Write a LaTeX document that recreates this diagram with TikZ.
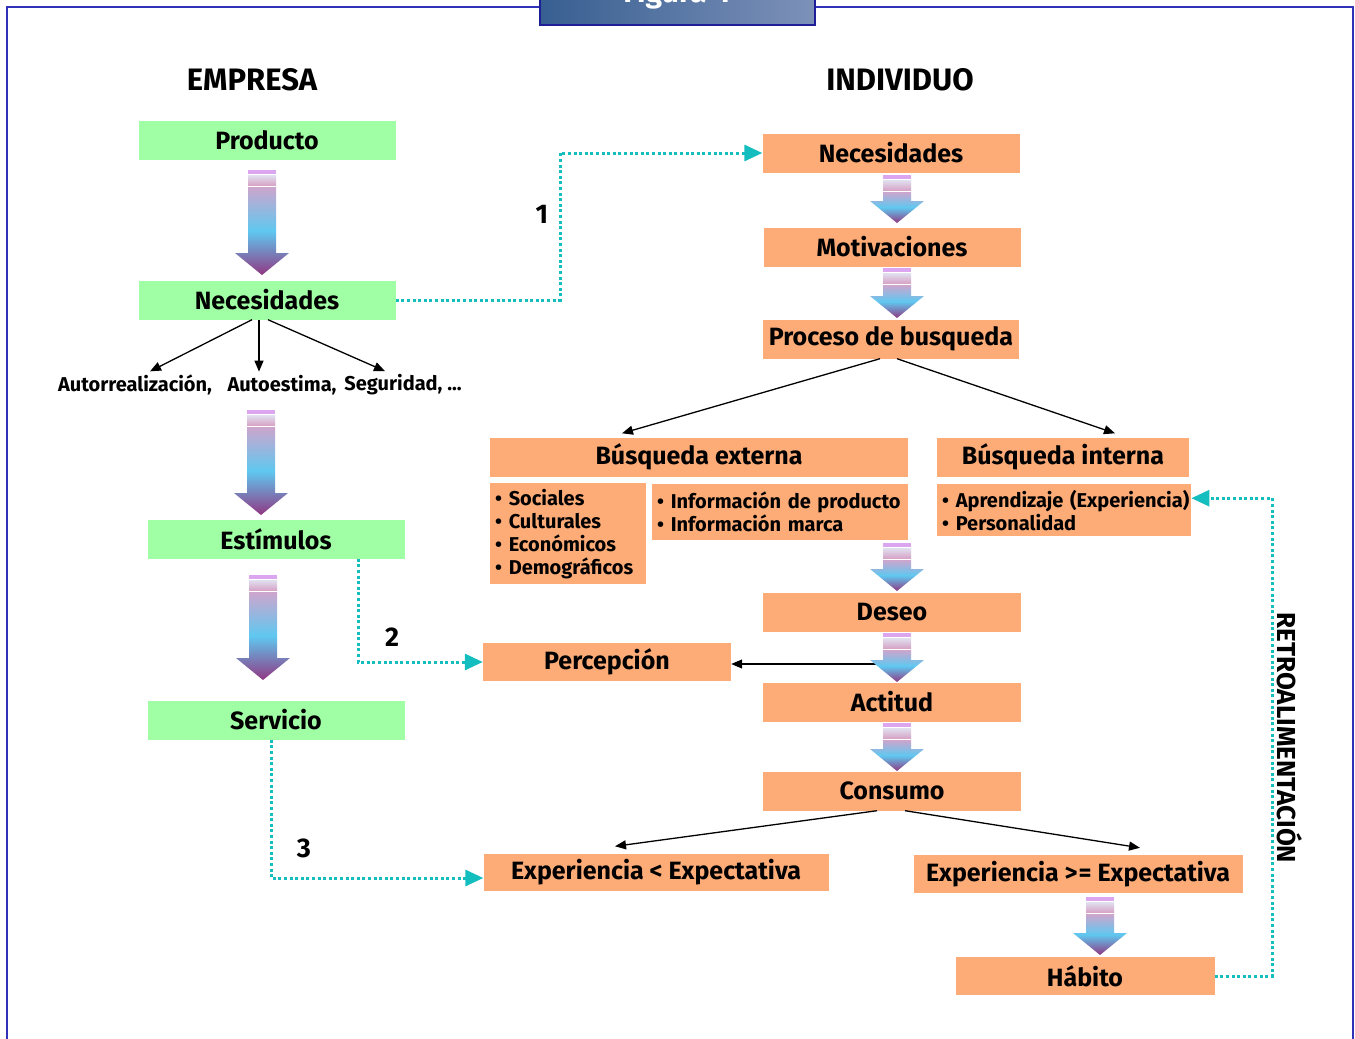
\documentclass[tikz,border=0pt]{standalone}
\usepackage{fontspec}
\setmainfont{Fira Sans}
\usetikzlibrary{arrows.meta}

\definecolor{empgreen}{RGB}{160,255,165}
\definecolor{indorange}{RGB}{253,172,120}
\definecolor{dotcyan}{RGB}{20,190,190}
\definecolor{frameblue}{RGB}{50,50,185}
\definecolor{titleedge}{RGB}{30,30,150}
\definecolor{titledark}{RGB}{55,95,145}
\definecolor{titlelight}{RGB}{125,145,185}
\definecolor{stripeviolet}{RGB}{220,165,240}
\definecolor{stripelight}{RGB}{225,225,240}
\definecolor{stripepink}{RGB}{215,165,200}
\definecolor{arrtop}{RGB}{205,165,205}
\definecolor{arrmid}{RGB}{95,200,240}
\definecolor{arrbot}{RGB}{145,55,130}

\newcommand{\boxfont}{\fontsize{25}{29}\selectfont\bfseries}
\newcommand{\listfont}{\fontsize{20}{23}\selectfont\bfseries}
\newcommand{\headfont}{\fontsize{31}{35}\selectfont\bfseries}

% shaded down arrow: centre x, top y, tip y
\newcommand{\gradarrow}[3]{
    \fill[stripeviolet] ({#1-14},#2) rectangle ({#1+14},{#2+4});
    \shade[top color=stripelight, bottom color=stripepink] ({#1-14},{#2+5}) rectangle ({#1+14},{#2+15});
    \shade[top color=arrtop, bottom color=arrbot, middle color=arrmid]
        ({#1-14},{#2+17}) -- ({#1+14},{#2+17}) -- ({#1+14},{#3-22}) -- ({#1+27},{#3-22})
        -- (#1,#3) -- ({#1-27},{#3-22}) -- ({#1-14},{#3-22}) -- cycle;
}

\tikzset{
    gbox/.style={fill=empgreen, minimum width=257pt, minimum height=39pt, inner sep=0pt, font=\boxfont},
    obox/.style={fill=indorange, minimum height=39pt, inner sep=0pt, font=\boxfont},
    lbox/.style={fill=indorange, anchor=north west, align=left, inner xsep=5pt, inner ysep=0pt, font=\listfont},
    fan/.style={-{Triangle[length=11pt,width=9pt]}, line width=1.3pt},
    dotline/.style={dotcyan, line width=3pt, dash pattern=on 3pt off 2.6pt, -{Triangle[length=18pt,width=16pt]}},
    numlabel/.style={font=\fontsize{27}{30}\selectfont\bfseries},
}

\begin{document}
\begin{tikzpicture}[x=1pt, y=-1pt]

            % the frame
            \clip (0,0) rectangle (1355,1039);
            \fill[white] (0,0) rectangle (1355,1039);
            \draw[frameblue, line width=2pt] (7,1060) -- (7,7) -- (1353,7) -- (1353,1060);
            \shade[left color=titledark, right color=titlelight, draw=titleedge, line width=1.5pt] (540,-5) rectangle (815,25);
            \node[anchor=base, white, font=\fontsize{30}{34}\selectfont\bfseries] (title) at (677,2) {Figura 4};

            % headings
            \node[font=\headfont] (empresa) at (252,80) {EMPRESA};
            \node[font=\headfont] (individuo) at (900,80) {INDIVIDUO};

            % empresa column
            \node[gbox] (prod) at (267,140) {Producto};
            \node[gbox] (necL) at (267,300) {Necesidades};
            \node[gbox] (estim) at (276,539) {Estímulos};
            \node[gbox] (serv) at (276,720) {Servicio};

            \node[font=\listfont] (auto1) at (135,385) {Autorrealización,};
            \node[font=\listfont] (auto2) at (282,385) {Autoestima,};
            \node[font=\listfont] (auto3) at (403,385) {Seguridad, ...};

            % individuo column
            \node[obox, minimum width=257pt] (necR) at (891,153) {Necesidades};
            \node[obox, minimum width=257pt] (motiv) at (892,247) {Motivaciones};
            \node[obox, minimum width=256pt] (proc) at (891,339) {Proceso de busqueda};
            \node[obox, minimum width=418pt] (bext) at (699,457) {Búsqueda externa};
            \node[obox, minimum width=252pt] (bint) at (1063,457) {Búsqueda interna};
            \node[lbox, minimum width=156pt, minimum height=101pt, text width=146pt] (social) at (490,483)
                {• Sociales\\• Culturales\\• Económicos\\• Demográficos};
            \node[lbox, minimum width=256pt, minimum height=56pt, text width=246pt] (info) at (652,484)
                {• Información de producto\\• Información marca};
            \node[lbox, minimum width=254pt, minimum height=52pt, text width=244pt] (aprend) at (937,484)
                {\mbox{• Aprendizaje (Experiencia)}\\• Personalidad};
            \node[obox, minimum width=258pt] (deseo) at (892,612) {Deseo};
            \node[obox, minimum width=248pt, minimum height=38pt] (percep) at (607,662) {Percepción};
            \node[obox, minimum width=258pt] (actit) at (892,702) {Actitud};
            \node[obox, minimum width=258pt] (cons) at (892,791) {Consumo};
            \node[obox, minimum width=345pt, minimum height=37pt] (expless) at (656,872) {Experiencia < Expectativa};
            \node[obox, minimum width=329pt, minimum height=38pt] (expgeq) at (1078,874) {Experiencia >\kern1pt= Expectativa};
            \node[obox, minimum width=259pt, minimum height=38pt] (habito) at (1085,976) {Hábito};

            % black arrows
            \draw[fan] ([xshift=-15pt]necL.south) -- ([xshift=15pt]auto1.north);
            \draw[fan] ([xshift=-8pt]necL.south) -- ([xshift=-23pt]auto2.north);
            \draw[fan] ([xshift=1pt]necL.south) -- ([xshift=-18pt]auto3.north);
            \draw[fan] ([xshift=-11pt]proc.south) -- ([xshift=-77pt,yshift=4pt]bext.north);
            \draw[fan] ([xshift=6pt]proc.south) -- ([xshift=52pt,yshift=4pt]bint.north);
            \draw[fan] ([xshift=-15pt]cons.south) -- ([xshift=-41pt,yshift=7pt]expless.north);
            \draw[fan] ([xshift=13pt]cons.south) -- ([xshift=62pt,yshift=7pt]expgeq.north);
            \coordinate (deseoarr) at (880,664);
            \draw[fan] (deseoarr) -- (deseoarr -| percep.east);

            % shaded arrows
            \gradarrow{262}{170}{275}
            \gradarrow{261}{410}{515}
            \gradarrow{263}{575}{680}
            \foreach \t/\b in {175/223, 268/318, 543/591, 633/682, 723/771} {
                \gradarrow{897}{\t}{\b}
            }
            \gradarrow{1100}{897}{955}

            % dotted links
            \coordinate (expin) at ([yshift=-6pt]expless.west);
            \coordinate (aprin) at ([yshift=12pt]aprend.east);
            \draw[dotline] (necL.east) -- (560,0 |- necL.east) -- (560,0 |- necR.west) -- (necR.west);
            \draw[dotline] (358,0 |- estim.south) -- (358,0 |- percep.west) -- (percep.west);
            \draw[dotline] (271,0 |- serv.south) -- (271,0 |- expin) -- (expin);
            \draw[dotline] (habito.east) -- (1272,0 |- habito.east) -- (1272,0 |- aprin) -- (aprin);

            % labels
            \node[numlabel] (one) at (542,214) {1};
            \node[numlabel] (two) at (392,637) {2};
            \node[numlabel] (three) at (304,848) {3};
            \node[rotate=-90, font=\fontsize{26}{30}\selectfont\bfseries] (retro) at (1290,738) {RETROALIMENTACIÓN};

\end{tikzpicture}
\end{document}
